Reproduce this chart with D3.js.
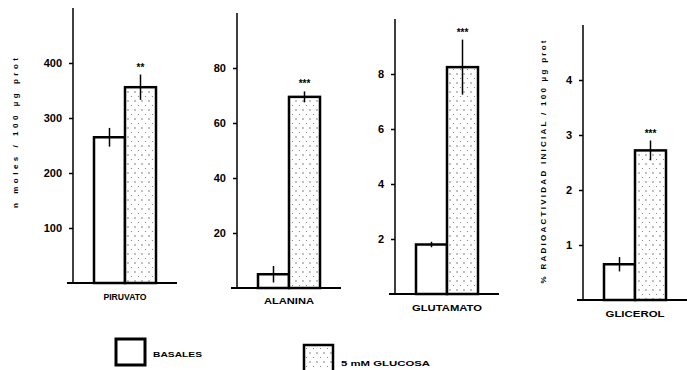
<!DOCTYPE html>
<html>
<head>
<meta charset="utf-8">
<script src="https://cdn.jsdelivr.net/npm/d3@7"></script>
<style>
  body { margin: 0; background: #fff; }
  svg { display: block; font-family: "Liberation Sans", Arial, sans-serif; }
</style>
</head>
<body>
<svg></svg>
<script>
const width = 687;
const height = 370;

// data
const categories = ['PIRUVATO', 'ALANINA', 'GLUTAMATO', 'GLICEROL'];
const basales = [265, 5, 1.8, 0.65];
const basalesErr = [17, 3, 0.1, 0.13];
const glucosa = [356, 69.5, 8.25, 2.72];
const glucosaErr = [23, 2, 1.0, 0.18];
const stars = ['**', '***', '***', '***'];
const yTicks = [[100, 200, 300, 400], [20, 40, 60, 80], [2, 4, 6, 8], [1, 2, 3, 4]];
const yMax = [500, 100, 10, 5];
const series = ['BASALES', '5 mM GLUCOSA'];

// panel layout
const axisX = [73, 237, 395, 583];
const zeroY = [283, 288, 294, 300];
const labelY = [297, 301, 308, 314];
const labelLen = [43, 50, 70, 59];
const panelH = 275;

const svg = d3.select('svg')
    .attr('width', width)
    .attr('height', height);

// stipple for the glucose bars
const defs = svg.append('defs');
const pat = defs.append('pattern')
    .attr('id', 'dots')
    .attr('width', 7)
    .attr('height', 9)
    .attr('patternUnits', 'userSpaceOnUse');
pat.append('rect').attr('width', 7).attr('height', 9).attr('fill', '#fff');
pat.append('circle').attr('cx', 2).attr('cy', 2).attr('r', 0.7).attr('fill', '#555');
pat.append('circle').attr('cx', 5.5).attr('cy', 6.5).attr('r', 0.6).attr('fill', '#777');

categories.forEach((cat, i) => {
    const g = svg.append('g');
    const y = d3.scaleLinear()
        .domain([0, yMax[i]])
        .range([zeroY[i], zeroY[i] - panelH]);
    const x = d3.scaleBand()
        .domain(series)
        .range([axisX[i] + 21, axisX[i] + 83])
        .paddingInner(0);

    // y axis
    const axis = d3.axisLeft(y)
        .tickValues(yTicks[i])
        .tickSize(4)
        .tickPadding(7)
        .tickFormat(d3.format('d'));
    const ax = g.append('g')
        .attr('transform', `translate(${axisX[i]},0)`)
        .call(axis);
    ax.select('.domain').remove();
    ax.selectAll('.tick line').attr('stroke', '#000').attr('stroke-width', 1.5);
    ax.selectAll('.tick text')
        .attr('fill', '#000')
        .style('font-size', '11px')
        .style('font-weight', 'bold');
    g.append('line')
        .attr('x1', axisX[i]).attr('x2', axisX[i])
        .attr('y1', y(0)).attr('y2', y(yMax[i]))
        .attr('stroke', '#000').attr('stroke-width', 1.5);

    // baseline
    g.append('line')
        .attr('x1', axisX[i] - 6).attr('x2', axisX[i] + 104)
        .attr('y1', y(0)).attr('y2', y(0))
        .attr('stroke', '#000').attr('stroke-width', 2);

    const vals = [basales[i], glucosa[i]];
    const errs = [basalesErr[i], glucosaErr[i]];

    g.selectAll('rect.bar')
        .data(series)
        .enter()
        .append('rect')
        .attr('class', 'bar')
        .attr('x', d => x(d))
        .attr('y', (d, j) => y(vals[j]))
        .attr('width', x.bandwidth())
        .attr('height', (d, j) => y(0) - y(vals[j]))
        .attr('fill', (d, j) => j == 1 ? 'url(#dots)' : '#fff')
        .attr('stroke', '#000')
        .attr('stroke-width', 2.5);

    g.selectAll('line.err')
        .data(series)
        .enter()
        .append('line')
        .attr('class', 'err')
        .attr('x1', d => x(d) + x.bandwidth() / 2)
        .attr('x2', d => x(d) + x.bandwidth() / 2)
        .attr('y1', (d, j) => y(vals[j] - errs[j]))
        .attr('y2', (d, j) => y(vals[j] + errs[j]))
        .attr('stroke', '#000')
        .attr('stroke-width', 1.5);

    g.append('text')
        .attr('x', x(series[1]) + x.bandwidth() / 2)
        .attr('y', y(glucosa[i] + glucosaErr[i]) - 4)
        .attr('text-anchor', 'middle')
        .style('font-size', '10px')
        .style('font-weight', 'bold')
        .text(stars[i]);

    g.append('text')
        .attr('x', axisX[i] + 52)
        .attr('y', labelY[i] + 3)
        .attr('text-anchor', 'middle')
        .attr('textLength', labelLen[i])
        .attr('lengthAdjust', 'spacingAndGlyphs')
        .style('font-size', '9px')
        .style('font-weight', 'bold')
        .text(cat);
});

// y axis titles
svg.append('text')
    .attr('transform', 'translate(18,133) rotate(-90)')
    .attr('text-anchor', 'middle')
    .attr('textLength', 150)
    .attr('lengthAdjust', 'spacing')
    .style('font-size', '8px')
    .style('font-weight', 'bold')
    .text('n moles / 100 µg prot');

svg.append('text')
    .attr('transform', 'translate(546,162) rotate(-90)')
    .attr('text-anchor', 'middle')
    .attr('textLength', 243)
    .attr('lengthAdjust', 'spacing')
    .style('font-size', '8px')
    .style('font-weight', 'bold')
    .text('% RADIOACTIVIDAD INICIAL   / 100  µg prot');

// legend
const legend = svg.append('g');
legend.append('rect')
    .attr('x', 116).attr('y', 339)
    .attr('width', 29).attr('height', 26)
    .attr('fill', '#fff')
    .attr('stroke', '#000').attr('stroke-width', 3);
legend.append('text')
    .attr('x', 153).attr('y', 357)
    .attr('textLength', 49)
    .attr('lengthAdjust', 'spacingAndGlyphs')
    .style('font-size', '8px')
    .style('font-weight', 'bold')
    .text(series[0]);
legend.append('rect')
    .attr('x', 304).attr('y', 345)
    .attr('width', 29).attr('height', 32)
    .attr('fill', 'url(#dots)')
    .attr('stroke', '#000').attr('stroke-width', 2.5);
legend.append('text')
    .attr('x', 341).attr('y', 366)
    .attr('textLength', 89)
    .attr('lengthAdjust', 'spacingAndGlyphs')
    .style('font-size', '8px')
    .style('font-weight', 'bold')
    .text(series[1]);
</script>
</body>
</html>
